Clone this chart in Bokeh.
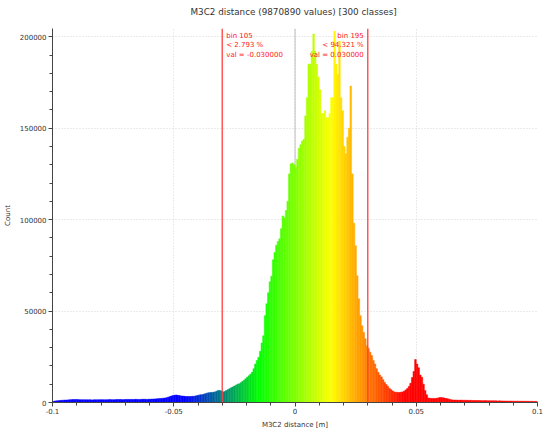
import numpy as np
from bokeh.plotting import figure
from bokeh.models import Range1d, FixedTicker, Span, Label
from bokeh.embed import file_html
from bokeh.resources import INLINE

# ---------------- data ----------------
title_text = "M3C2 distance (9870890 values)  [300 classes]"
x_label = "M3C2 distance [m]"
y_label = "Count"
x_min, x_max, n_classes = -0.1, 0.1, 300

counts = [
    600, 800, 900, 1000, 1100, 1200, 1250, 1300, 1350, 1400,
    1500, 1550, 1600, 1600, 1650, 1600, 1550, 1500, 1500, 1500,
    1450, 1500, 1450, 1500, 1400, 1450, 1500, 1450, 1500, 1500,
    1550, 1500, 1450, 1500, 1550, 1600, 1550, 1500, 1550, 1600,
    1600, 1650, 1600, 1550, 1600, 1650, 1700, 1650, 1700, 1700,
    1700, 1750, 1700, 1650, 1700, 1750, 1800, 1750, 1700, 1800,
    1800, 1850, 1900, 1950, 2000, 2100, 2200, 2250, 2300, 2400,
    2600, 2900, 3200, 3500, 3800, 4000, 4100, 3900, 3800, 3600,
    3500, 3400, 3300, 3300, 3250, 3300, 3350, 3400, 3600, 3800,
    4000, 4200, 4300, 4500, 4800, 5100, 5300, 5400, 5500, 5600,
    5800, 6200, 6500, 6600, 6300, 5800, 6000, 6500, 7000, 7500,
    8000, 8500, 9000, 9500, 10000, 10200, 10800, 11500, 12200, 13000,
    13800, 14600, 15500, 16500, 18500, 21000, 23000, 24700, 28000, 32500,
    36500, 47500, 54000, 60000, 66000, 69000, 78000, 82000, 86000, 88000,
    89500, 95000, 102000, 101000, 105000, 110000, 125000, 130500, 131000, 130000,
    128500, 133000, 139000, 141000, 143000, 144000, 156700, 166700, 185000, 185000,
    192000, 201500, 192000, 185000, 178000, 171000, 158000, 158000, 159500, 155800,
    155800, 158000, 166700, 166700, 203000, 185000, 179500, 197600, 166700, 159500,
    140000, 136000, 145000, 150000, 173000, 125000, 98000, 85700, 69300, 56700,
    47500, 42000, 38300, 34900, 31000, 29500, 27500, 25700, 23000, 21000,
    18500, 16500, 15000, 14000, 12500, 11000, 9800, 8800, 7600, 7000,
    6300, 5800, 5600, 5500, 5500, 5600, 5800, 6200, 6900, 7600,
    8800, 10500, 13700, 17000, 23500, 21000, 19000, 15000, 13800, 10000,
    6500, 4200, 2500, 2300, 2200, 2200, 2200, 2300, 2500, 2700,
    2700, 2600, 2400, 2200, 2000, 1800, 1500, 1400, 1350, 1300,
    1300, 1250, 1300, 1250, 1200, 1250, 1200, 1150, 1200, 1150,
    1100, 1100, 1050, 1100, 1050, 1000, 1000, 1050, 1000, 950,
    950, 900, 950, 900, 900, 850, 900, 850, 850, 800,
    800, 800, 750, 800, 750, 750, 700, 750, 700, 700,
    700, 650, 700, 650, 650, 600, 650, 600, 600, 600,
]

thresholds = [-0.03, 0.03]
threshold_texts = [
    ["bin 105", "< 2.793 %", "val = -0.030000"],
    ["bin 195", "< 94.321 %", "val = 0.030000"],
]

x_ticks = [-0.1, -0.05, 0.0, 0.05, 0.1]
x_tick_labels = ["-0.1", "-0.05", "0", "0.05", "0.1"]
y_ticks = [0, 50000, 100000, 150000, 200000]
y_tick_labels = ["0", "50000", "100000", "150000", "200000"]
y_top = 204500

# ---------------- style: colour ramp blue > green > yellow > red ----------------
ramp_pos = [-0.045, -0.015, 0.015, 0.045]
ramp_rgb = [(0, 0, 255), (0, 255, 0), (255, 255, 0), (255, 0, 0)]

edges = np.linspace(x_min, x_max, n_classes + 1)
centers = (edges[:-1] + edges[1:]) / 2
chan = [np.interp(centers, ramp_pos, [c[k] for c in ramp_rgb]) for k in range(3)]
colors = ["#%02x%02x%02x" % (int(round(r)), int(round(g)), int(round(b)))
          for r, g, b in zip(*chan)]

FONT = "DejaVu Sans"
TXT = "#333333"

p = figure(width=550, height=434, output_backend="svg", toolbar_location=None,
           x_range=Range1d(x_min, x_max), y_range=Range1d(0, y_top),
           min_border_left=52, min_border_right=13, min_border_top=28,
           min_border_bottom=32)
p.outline_line_color = None
p.background_fill_color = "white"
p.border_fill_color = "white"

# title (a trailing empty line lifts it away from the frame)
p.title.text = title_text + "\n"
p.title.align = "center"
p.title.text_font = FONT
p.title.text_font_size = "8.8px"
p.title.text_font_style = "normal"
p.title.text_color = TXT
p.title.standoff = 4

# zero line (under bars)
p.add_layout(Span(location=0, dimension="height", line_color="#bdbdbd",
                  line_width=1, level="underlay"))

p.quad(left=edges[:-1], right=edges[1:], bottom=0, top=counts,
       fill_color=colors, line_color=colors, line_width=0.5)

for thr, lines, side in zip(thresholds, threshold_texts, ["left", "right"]):
    p.add_layout(Span(location=thr, dimension="height", line_color="#ff3b3b",
                      line_alpha=0.85, line_width=1.5))
    for k, t in enumerate(lines):
        p.add_layout(Label(x=thr, y=y_top, text=t,
                           x_offset=4 if side == "left" else -4,
                           y_offset=-7 - 9.7 * k,
                           text_align=side, text_baseline="middle",
                           text_font=FONT, text_font_size="7px",
                           text_color="#ff2020"))

# axes
p.xaxis.ticker = FixedTicker(ticks=x_ticks,
                             minor_ticks=list(np.round(np.arange(-0.1, 0.1001, 0.01), 3)))
p.xaxis.major_label_overrides = {float(t): l for t, l in zip(x_ticks, x_tick_labels)}
p.yaxis.ticker = FixedTicker(ticks=y_ticks, minor_ticks=list(range(0, 210000, 10000)))
p.yaxis.major_label_overrides = {float(t): l for t, l in zip(y_ticks, y_tick_labels)}
p.xaxis.axis_label = x_label
p.yaxis.axis_label = y_label

for ax in (p.xaxis, p.yaxis):
    ax.axis_line_color = "#444444"
    ax.major_tick_line_color = "#444444"
    ax.minor_tick_line_color = "#444444"
    ax.major_tick_out = 4
    ax.major_tick_in = 0
    ax.minor_tick_out = 3
    ax.minor_tick_in = 0
    ax.major_label_text_font = FONT
    ax.major_label_text_font_size = "7px"
    ax.major_label_text_color = TXT
    ax.axis_label_text_font = FONT
    ax.axis_label_text_font_size = "7px"
    ax.axis_label_text_font_style = "normal"
    ax.axis_label_text_color = TXT

p.xaxis.major_label_standoff = 1
p.xaxis.axis_label_standoff = 4
p.yaxis.major_label_standoff = 2
p.yaxis.axis_label_standoff = 5

p.xgrid.ticker = FixedTicker(ticks=x_ticks)
p.ygrid.ticker = FixedTicker(ticks=y_ticks)
for g in (p.xgrid, p.ygrid):
    g.grid_line_color = "#d6d6d6"
    g.grid_line_dash = "1 2"
    g.grid_line_width = 1

open("out.html", "w").write(file_html(p, INLINE))
